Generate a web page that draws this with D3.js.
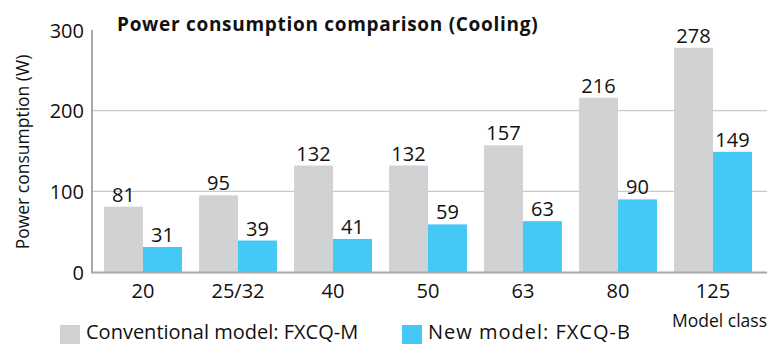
<!DOCTYPE html>
<html>
<head>
<meta charset="utf-8">
<script src="https://cdn.jsdelivr.net/npm/d3@7"></script>
<style>
  html, body { margin: 0; padding: 0; background: #fff; }
  svg { display: block; font-family: "Open Sans", "Noto Sans", sans-serif; }
</style>
</head>
<body>
<svg id="chart" width="779" height="344"></svg>
<script>
// Model classes and power draw (W) in cooling mode
const categories = ["20", "25/32", "40", "50", "63", "80", "125"];
const conventional = [81, 95, 132, 132, 157, 216, 278];
const newModel = [31, 39, 41, 59, 63, 90, 149];
const yTicks = [0, 100, 200, 300];
const seriesNames = ["Conventional model: FXCQ-M", "New model: FXCQ-B"];
const seriesColors = ["#d1d2d4", "#44c8f5"];

const svg = d3.select("#chart");

const x = d3.scaleBand().domain(categories).range([95.5, 760.5]).paddingInner(0.18).paddingOuter(0.09);
const xInner = d3.scaleBand().domain([0, 1]).range([0, x.bandwidth()]);
const y = d3.scaleLinear().domain([0, 300]).range([272, 30]);

// Horizontal gridlines
svg.append("g")
  .selectAll("line")
  .data(yTicks.filter(d => d > 0 && d < 300))
  .join("line")
  .attr("x1", 92).attr("x2", 767)
  .attr("y1", d => y(d)).attr("y2", d => y(d))
  .attr("stroke", "#c9c9c9").attr("stroke-width", 1.2);

// Bars
const groups = svg.append("g")
  .selectAll("g")
  .data(categories.map((c, i) => ({ c, vals: [conventional[i], newModel[i]] })))
  .join("g")
  .attr("transform", d => `translate(${x(d.c)},0)`);

groups.selectAll("rect")
  .data(d => d.vals)
  .join("rect")
  .attr("x", (d, i) => xInner(i))
  .attr("width", xInner.bandwidth())
  .attr("y", d => y(d))
  .attr("height", d => y(0) - y(d))
  .attr("fill", (d, i) => seriesColors[i]);

groups.selectAll("text")
  .data(d => d.vals)
  .join("text")
  .attr("x", (d, i) => xInner(i) + xInner.bandwidth() / 2)
  .attr("y", d => y(d) - 5)
  .attr("text-anchor", "middle")
  .attr("font-size", 20)
  .attr("fill", "#111")
  .text(d => d);

// Axes lines
svg.append("line").attr("x1", 92).attr("x2", 92).attr("y1", 30).attr("y2", 273)
  .attr("stroke", "#a8a8a8").attr("stroke-width", 2);
svg.append("line").attr("x1", 91).attr("x2", 767).attr("y1", 272.5).attr("y2", 272.5)
  .attr("stroke", "#a8a8a8").attr("stroke-width", 2);

// Y tick labels
const yAxis = d3.axisLeft(y).tickValues(yTicks).tickSize(0).tickPadding(0);
const yg = svg.append("g").attr("transform", "translate(84,0)").call(yAxis);
yg.select(".domain").remove();
yg.selectAll("text").attr("font-size", 20).attr("fill", "#111")
  .attr("font-family", "'Open Sans', sans-serif").attr("dy", "0.35em");

// X tick labels
const xAxis = d3.axisBottom(x).tickSize(0).tickPadding(0);
const xg = svg.append("g").attr("transform", "translate(0,284)").call(xAxis);
xg.select(".domain").remove();
xg.selectAll("text").attr("font-size", 20).attr("fill", "#111")
  .attr("font-family", "'Open Sans', sans-serif").attr("dy", "0.71em");

// Titles
svg.append("text").attr("x", 117).attr("y", 31)
  .attr("font-size", 19).attr("font-weight", "bold").attr("fill", "#111")
  .attr("letter-spacing", 0.7)
  .text("Power consumption comparison (Cooling)");

svg.append("text")
  .attr("transform", "translate(29,152) rotate(-90)")
  .attr("text-anchor", "middle")
  .attr("font-size", 17.5).attr("fill", "#111")
  .text("Power consumption (W)");

svg.append("text").attr("x", 767).attr("y", 327)
  .attr("text-anchor", "end")
  .attr("font-size", 17.5).attr("fill", "#111")
  .text("Model class");

// Legend
const legendX = [60, 402];
const legend = svg.append("g").selectAll("g")
  .data(seriesNames)
  .join("g")
  .attr("transform", (d, i) => `translate(${legendX[i]},325)`);
legend.append("rect").attr("width", 20).attr("height", 19)
  .attr("fill", (d, i) => seriesColors[i]);
legend.append("text").attr("x", 26).attr("y", 14)
  .attr("font-size", 20).attr("fill", "#111")
  .attr("letter-spacing", (d, i) => i === 1 ? 1 : 0)
  .text(d => d);
</script>
</body>
</html>
